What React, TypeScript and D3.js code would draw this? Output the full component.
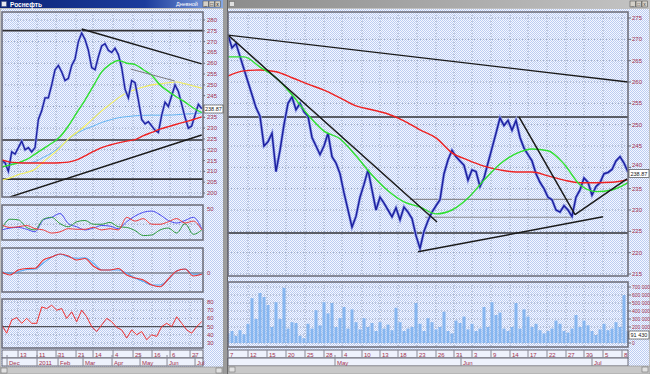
import React from "react";
import * as d3 from "d3";

// ---- left window: daily, Dec 2010 - Jul 2011 (index 0..60)
const leftClose = [215, 214, 210, 219, 218, 221, 224, 220, 221, 219, 221, 234, 238, 244, 244, 250, 257, 259, 256, 252,
  253, 259, 262, 270, 274, 271, 266, 258, 257, 263, 268, 269, 266, 265, 267, 264, 258, 248, 244, 252,
  251, 243, 234, 232, 233, 231, 229, 228, 236, 242, 240, 245, 250, 247, 241, 235, 230, 231, 236, 241, 239];
const leftMaGreen = [212, 213, 214, 215.5, 218, 220.5, 223, 226, 231, 237, 243, 249.5, 256, 259.5, 261.3, 260, 259.4, 257, 254.5, 250, 247, 244.4, 242, 239.3, 237.2];
const leftMaYellow = [206, 207, 208.5, 209.5, 211, 214.5, 217.5, 221, 225, 228, 231, 234.5, 238, 241, 244, 246.3, 247.8, 249, 250, 250.5, 251, 251.3, 250.5, 249.5, 248.5];
const leftMaSky = [213.5, 213.8, 213.9, 213.9, 214.5, 216.5, 218.5, 221.5, 224.8, 227.5, 229.5, 231, 232.6, 233.8, 234.8, 235.3, 235.7, 235.9, 236, 236, 236, 236.2, 236.5, 236.7, 237];
const leftMaRed = [215.3, 214.3, 214, 213.9, 213.9, 213.9, 213.9, 214, 214.3, 215.3, 217.2, 219.2, 221, 222.2, 223.2, 224, 224.7, 226.5, 228, 229.5, 230.7, 231.8, 232.9, 234, 235.2];
// 240 sits under the price box in the picture
const leftPriceTicks = [280, 275, 270, 265, 260, 255, 250, 245, 235, 230, 225, 220, 215, 210, 205, 200];
const leftGridPrices = [280, 270, 260, 250, 240, 230, 220, 210, 200];
const leftLevels = [275.1, 224.5, 206.4];
const leftTrends = [
  [[24, 275.8], [60, 259.7]],
  [[2.5, 198.2], [60, 226.8]],
];
const leftThinTrend = [[38.7, 257.3], [51.9, 251.8]];

const dmiBlue = [16, 19, 20, 17, 13, 32, 36, 42, 26, 21, 16, 19, 23, 22, 18, 29, 38, 44, 46, 40, 31, 27, 31, 36, 18];
const dmiRed = [24, 20, 21, 23, 18, 16, 11, 13, 18, 17, 17, 20, 16, 18, 16, 36, 30, 34, 25, 25, 29, 34, 27, 30, 16];
const dmiGreen = [18, 33, 32, 20, 16, 33, 36, 26, 21, 29, 31, 25, 25, 28, 21, 20, 15, 7, 8, 16, 19, 11, 26, 9, 16];
const macdRed = [1, -2, 3, 4.5, 4.7, 13, 16, 19, 17, 13, 14.5, 7, 3, 3, 4.5, -2, -5, -7, -12, -13.7, -6, 2, 4, -3, -1.3];
const macdBlue = [1.3, -0.3, 1.3, 3.5, 4, 10, 16, 18.7, 16.3, 14.7, 15.3, 9.7, 3, 3, 3, -0.3, -5, -8.5, -12, -12, -6, 2, 4, -1.3, -1.3];
const rsiValues = [52, 42, 58, 61, 54, 60, 54, 54, 74, 72, 76, 70, 72, 60, 68, 56, 70, 62, 50, 44,
  52, 60, 56, 49, 46, 36, 46, 40, 44, 34, 40, 38, 50, 54, 50, 62, 54, 46, 42, 50, 56];
const rsiTicks = [80, 70, 60, 50, 40, 30];

const leftDaySeps = [4.9, 10.6, 16.3, 22.3, 27.4, 33.4, 39.4, 45.1, 50.5, 56.5];
const leftDayLabels = ["13", "11", "31", "21", "14", "4", "25", "16", "6", "27"];
const leftMonthSeps = [1.6, 10.6, 16.9, 24.4, 33.1, 41.5, 49.6, 58];
const leftMonthLabels = ["Dec", "2011", "Feb", "Mar", "Apr", "May", "Jun", "Jul"];

// ---- right window: 7 Apr - 8 Jul 2011 (index 0..100)
const rightClose = [271, 268, 269, 266, 263, 260, 257, 254, 252, 245,
  246, 248, 239, 244, 250, 255, 256.5, 253.5, 255, 253,
  252, 247, 245, 243, 245, 248, 242.5, 241, 238.5, 234,
  230, 226, 228.5, 233, 236, 239.4, 234.7, 230, 233, 231.6,
  230, 228.4, 230.5, 227.7, 230.7, 229.5, 228, 224, 221, 225,
  227.5, 229.5, 231, 232.4, 238.5, 241.7, 244, 242.5, 241.5, 240.5,
  237, 239.4, 239, 235.5, 237.5, 241, 244.5, 248, 251.6, 249.8,
  251, 248.7, 251, 247, 244.5, 243, 241.5, 238.5, 236.5, 235,
  233, 232.4, 230, 229.5, 231, 230, 228.5, 233, 234.7, 237.5,
  236.5, 233.5, 235.5, 236.4, 238.5, 238.8, 239.5, 241.5, 242.5, 241,
  238.9];
const rightMaGreen = [265.9, 265.9, 263.5, 261, 257, 252.3, 248.5, 246.7, 242.7, 238.2, 234.5, 231.9, 230.7, 229.1, 230, 232.8, 237, 240.8, 243.2, 244.3, 243.9, 240.8, 235.9, 234.3, 234.7, 236.4];
const rightMaRed = [261.4, 262.6, 262.8, 262.4, 261, 259.5, 258.1, 256.3, 254.4, 253.5, 252.5, 250.9, 248.8, 246.9, 243.4, 241.7, 240.3, 239.4, 238.9, 238.9, 238, 237, 236.4, 236.4, 236.5, 237.1];
// volume, thousands
const rightVolume = [120, 150, 90, 160, 110, 240, 560, 300, 625, 575, 475, 200, 510, 300, 690, 180, 260, 250, 90, 60,
  240, 180, 410, 220, 510, 370, 500, 200, 310, 450, 180, 420, 260, 170, 310, 200, 250, 150, 260, 180,
  230, 160, 440, 260, 150, 180, 200, 500, 240, 150, 310, 260, 170, 200, 390, 150, 120, 280, 250, 330,
  170, 240, 150, 180, 450, 200, 510, 350, 380, 180, 150, 200, 500, 180, 420, 330, 200, 240, 160, 120,
  150, 180, 280, 240, 150, 130, 180, 350, 200, 280, 220, 150, 100, 170, 240, 160, 180, 260, 200, 600, 150];
const rightPriceTicks = [275, 270, 265, 260, 255, 250, 245, 240, 235, 230, 225, 220, 215];
const volTicks = [700, 600, 500, 400, 300, 200, 100, 0];
const volTickLabels = ["700 000", "600 000", "500 000", "400 000", "300 000", "200 000", "", "0"];
const rightLevels = [251.8, 224.6];
const rightShortLevels = [[232.5, 45.5, 86], [228.3, 49.25, 86]];
const rightTrends = [
  [[0, 271], [100, 260]],
  [[0, 271], [52.25, 227.2]],
  [[47.5, 220.2], [93.75, 228.4]],
  [[72.75, 251.8], [86.75, 228.9]],
  [[86.75, 228.9], [99.75, 237.3]],
];
const rightDaySeps = [0, 5, 9.75, 14.5, 19.25, 24, 28.5, 33.5, 38, 42.5, 47.25, 52, 56.5, 61, 65.75, 70.5, 75, 79.75, 84.5, 89, 93.75, 98.5];
const rightDayLabels = ["7", "12", "15", "20", "25", "28", "4", "10", "13", "18", "23", "26", "31", "3", "9", "14", "17", "22", "27", "30", "5", "8"];
const rightMonthSeps = [26.75, 58.25, 91];
const rightMonthLabels = ["May", "Jun", "Jul"];

const FONT = "'Liberation Sans', Arial, sans-serif";
const LBL = "#a3304e";
const FRAME = "#6a6a76";
const GRID = "#98a4bc";

function seg(pts: number[][], x: (v: number) => number, y: (v: number) => number, key: string, stroke: string, w: number) {
  return <line key={key} x1={x(pts[0][0])} y1={y(pts[0][1])} x2={x(pts[1][0])} y2={y(pts[1][1])} stroke={stroke} strokeWidth={w} />;
}

export default function App() {
  // left scales
  const xL = d3.scaleLinear().domain([0, 60]).range([1.7, 201.7]);
  const spreadL = (n: number) => (i: number) => xL((i * 60) / (n - 1));
  const yL = d3.scaleLinear().domain([200, 280]).range([193, 20]);
  const yDmi = d3.scaleLinear().domain([0, 54]).range([240, 206]);
  const yMacd = d3.scaleLinear().domain([-20, 25]).range([293, 248]);
  const yRsi = d3.scaleLinear().domain([30, 80]).range([343, 302]);
  // right scales
  const xR = d3.scaleLinear().domain([0, 100]).range([228, 628]);
  const spreadR = (n: number) => (i: number) => xR((i * 100) / (n - 1));
  const yR = d3.scaleLinear().domain([215, 275]).range([274, 18]);
  const yVol = d3.scaleLinear().domain([0, 700]).range([343, 287]);

  const path = (vals: number[], xf: (i: number) => number, y: (v: number) => number, curved = false) => {
    const l = d3.line<number>().x((_, i) => xf(i)).y(d => y(d));
    if (curved) l.curve(d3.curveMonotoneX);
    return l(vals) || "";
  };

  const txt = { fontFamily: FONT, fontSize: 6, fill: LBL } as const;

  const dateRows = (x0: number, x1: number, yTop: number, xs: (v: number) => number, daySeps: number[], dayLabels: string[], monSeps: number[], monLabels: string[], pre: string) => (
    <g>
      <rect x={x0} y={yTop} width={x1 - x0} height={8} fill="#eef2fc" stroke={FRAME} strokeWidth={1} />
      <rect x={x0} y={yTop + 8} width={x1 - x0} height={8} fill="#eef2fc" stroke={FRAME} strokeWidth={1} />
      {daySeps.map((s, i) => (
        <g key={pre + "d" + i}>
          <line x1={xs(s)} x2={xs(s)} y1={yTop} y2={yTop + 8} stroke="#8a8a96" />
          <text x={xs(s) + 2} y={yTop + 6.5} {...txt}>{dayLabels[i]}</text>
        </g>
      ))}
      {monSeps.map((s, i) => (
        <g key={pre + "m" + i}>
          <line x1={xs(s)} x2={xs(s)} y1={yTop + 5} y2={yTop + 16} stroke="#8a8a96" />
          <text x={xs(s) + 2} y={yTop + 14.5} {...txt}>{monLabels[i]}</text>
        </g>
      ))}
    </g>
  );

  const titleBtns = (x: number, active: boolean) => (
    <g>
      {[0, 6, 12].map((d, i) => (
        <g key={"b" + x + i}>
          <rect x={x + d} y={1} width={5.5} height={6} fill="#d4d0c8" stroke="#404040" strokeWidth={0.5} />
          <text x={x + d + 1.2} y={6} fontFamily={FONT} fontSize={5} fill={active ? "#000" : "#444"}>{["_", "□", "x"][i]}</text>
        </g>
      ))}
    </g>
  );

  return (
    <svg width={650} height={374} style={{ position: "absolute", left: 0, top: 0 }}>
      <defs>
        <pattern id="dith" width={2} height={2} patternUnits="userSpaceOnUse">
          <rect width={2} height={2} fill="#f6f8ff" />
          <rect width={1} height={1} fill="#bccdf2" />
          <rect x={1} y={1} width={1} height={1} fill="#bccdf2" />
        </pattern>
        <linearGradient id="titleL" x1="0" x2="1" y1="0" y2="0">
          <stop offset="0" stopColor="#0c2478" />
          <stop offset="0.65" stopColor="#1c3c9c" />
          <stop offset="1" stopColor="#86a8e4" />
        </linearGradient>
        <linearGradient id="titleR" x1="0" x2="1" y1="0" y2="0">
          <stop offset="0" stopColor="#8c8c8c" />
          <stop offset="1" stopColor="#c4c4c4" />
        </linearGradient>
        <clipPath id="cLmain"><rect x={2} y={12} width={201} height={185} /></clipPath>
        <clipPath id="cLdmi"><rect x={2} y={205} width={201} height={35} /></clipPath>
        <clipPath id="cLmacd"><rect x={2} y={248} width={201} height={44} /></clipPath>
        <clipPath id="cLrsi"><rect x={2} y={299} width={201} height={49} /></clipPath>
        <clipPath id="cRmain"><rect x={228} y={12} width={400} height={264} /></clipPath>
        <clipPath id="cRvol"><rect x={228} y={282} width={400} height={65} /></clipPath>
      </defs>

      {/* window chrome */}
      <rect x={0} y={0} width={650} height={374} fill="#c0c0c0" />
      <rect x={1} y={9} width={222} height={358} fill="url(#dith)" />
      <rect x={228} y={9} width={421} height={357} fill="url(#dith)" />
      <rect x={223} y={0} width={4} height={374} fill="#9c9c9c" />
      <line x1={227.5} x2={227.5} y1={0} y2={374} stroke="#606060" />

      {/* title bars */}
      <rect x={0} y={0} width={223} height={8} fill="url(#titleL)" />
      <rect x={1.5} y={1.5} width={5} height={5} fill="#e8e8f0" stroke="#405080" strokeWidth={0.5} />
      <text x={10} y={6.5} fontFamily={FONT} fontSize={6.5} fontWeight="bold" fill="#ffffff">Роснефть</text>
      <text x={176} y={6.3} fontFamily={FONT} fontSize={5.5} fill="#ffffff">Дневной</text>
      {titleBtns(203, true)}
      <rect x={228} y={0} width={422} height={8} fill="url(#titleR)" />
      <rect x={229.5} y={1.5} width={5} height={5} fill="#e0e0e0" stroke="#606060" strokeWidth={0.5} />
      {titleBtns(630, false)}

      {/* ===== left main panel ===== */}
      <g>
        {leftGridPrices.map(v => <line key={"lg" + v} x1={2} x2={203} y1={yL(v)} y2={yL(v)} stroke={GRID} strokeDasharray="1,2" />)}
        {leftDaySeps.map((s, i) => (
          <g key={"lv" + i}>
            {[[12, 197], [205, 240], [248, 292], [299, 348]].map(([a, b], j) => (
              <line key={j} x1={xL(s)} x2={xL(s)} y1={a} y2={b} stroke={GRID} strokeDasharray="1,2" />
            ))}
          </g>
        ))}
        <g clipPath="url(#cLmain)">
          {leftLevels.map(v => <line key={"ll" + v} x1={2} x2={203} y1={yL(v)} y2={yL(v)} stroke="#303034" strokeWidth={1.6} />)}
          <path d={path(leftMaSky, spreadL(leftMaSky.length), yL, true)} fill="none" stroke="#62b4f2" strokeWidth={1} />
          <path d={path(leftMaYellow, spreadL(leftMaYellow.length), yL, true)} fill="none" stroke="#f2ee5c" strokeWidth={1.1} />
          <path d={path(leftClose, spreadL(leftClose.length), yL)} fill="none" stroke="#9aa6ea" strokeWidth={2.6} />
          <path d={path(leftClose, spreadL(leftClose.length), yL)} fill="none" stroke="#1c20a0" strokeWidth={1.3} />
          <path d={path(leftMaGreen, spreadL(leftMaGreen.length), yL, true)} fill="none" stroke="#2ee02e" strokeWidth={1.4} />
          <path d={path(leftMaRed, spreadL(leftMaRed.length), yL, true)} fill="none" stroke="#ee2222" strokeWidth={1.4} />
          {leftTrends.map((t, i) => seg(t, xL, yL, "lt" + i, "#1a1a1a", 1.5))}
          {seg(leftThinTrend, xL, yL, "lthin", "#7a7a80", 1)}
        </g>
        <rect x={2} y={12} width={201} height={185} fill="none" stroke={FRAME} strokeWidth={1.5} />
        {leftPriceTicks.map(v => (
          <g key={"lpt" + v}>
            <line x1={203} x2={205} y1={yL(v)} y2={yL(v)} stroke={FRAME} />
            <text x={207} y={yL(v) + 2} {...txt}>{v}</text>
          </g>
        ))}
        <rect x={204} y={105} width={19} height={8} fill="#ffffff" stroke="#303030" strokeWidth={0.6} />
        <text x={205} y={111.2} fontFamily={FONT} fontSize={5.5} fill="#202020">238.87</text>
      </g>

      {/* ===== left DMI panel ===== */}
      <g>
        <line x1={2} x2={203} y1={yDmi(25)} y2={yDmi(25)} stroke={GRID} strokeDasharray="1,2" />
        <g clipPath="url(#cLdmi)">
          <path d={path(dmiBlue, spreadL(dmiBlue.length), yDmi, true)} fill="none" stroke="#4a4af0" strokeWidth={1} />
          <path d={path(dmiGreen, spreadL(dmiGreen.length), yDmi, true)} fill="none" stroke="#2e9a3e" strokeWidth={1} />
          <path d={path(dmiRed, spreadL(dmiRed.length), yDmi, true)} fill="none" stroke="#ee3a3a" strokeWidth={1} />
        </g>
        <rect x={2} y={205} width={201} height={35} fill="none" stroke={FRAME} strokeWidth={1.5} />
        <text x={207} y={yDmi(50) + 2} {...txt}>50</text>
      </g>

      {/* ===== left MACD panel ===== */}
      <g>
        <g clipPath="url(#cLmacd)">
          <line x1={2} x2={203} y1={yMacd(0)} y2={yMacd(0)} stroke="#505058" strokeWidth={1.2} />
          <path d={path(macdBlue, spreadL(macdBlue.length), yMacd, true)} fill="none" stroke="#56a8f4" strokeWidth={1.1} />
          <path d={path(macdRed, spreadL(macdRed.length), yMacd, true)} fill="none" stroke="#ee3030" strokeWidth={1.1} />
        </g>
        <rect x={2} y={248} width={201} height={44} fill="none" stroke={FRAME} strokeWidth={1.5} />
        <text x={207} y={yMacd(0) + 2} {...txt}>0</text>
      </g>

      {/* ===== left RSI panel ===== */}
      <g>
        {rsiTicks.map(v => <line key={"rg" + v} x1={2} x2={203} y1={yRsi(v)} y2={yRsi(v)} stroke={GRID} strokeDasharray="1,2" />)}
        <g clipPath="url(#cLrsi)">
          <line x1={2} x2={203} y1={yRsi(50)} y2={yRsi(50)} stroke="#505058" strokeWidth={1.2} />
          <path d={path(rsiValues, spreadL(rsiValues.length), yRsi)} fill="none" stroke="#ee3030" strokeWidth={1} />
        </g>
        <rect x={2} y={299} width={201} height={49} fill="none" stroke={FRAME} strokeWidth={1.5} />
        {rsiTicks.map(v => <text key={"rt" + v} x={207} y={yRsi(v) + 2} {...txt}>{v}</text>)}
      </g>

      {dateRows(2, 203, 350, xL, leftDaySeps, leftDayLabels, leftMonthSeps, leftMonthLabels, "L")}

      {/* ===== right main panel ===== */}
      <g>
        {rightPriceTicks.map(v => <line key={"rgp" + v} x1={228} x2={628} y1={yR(v)} y2={yR(v)} stroke={GRID} strokeDasharray="1,2" />)}
        {rightDaySeps.map((s, i) => (
          <g key={"rv" + i}>
            <line x1={xR(s)} x2={xR(s)} y1={12} y2={276} stroke={GRID} strokeDasharray="1,2" />
            <line x1={xR(s)} x2={xR(s)} y1={282} y2={347} stroke={GRID} strokeDasharray="1,2" />
          </g>
        ))}
        <g clipPath="url(#cRmain)">
          {rightLevels.map(v => <line key={"rl" + v} x1={228} x2={628} y1={yR(v)} y2={yR(v)} stroke="#303034" strokeWidth={1.6} />)}
          {rightShortLevels.map(([v, a, b], i) => (
            <line key={"rs" + i} x1={xR(a)} x2={xR(b)} y1={yR(v)} y2={yR(v)} stroke="#8a8a90" strokeWidth={1.2} />
          ))}
          <path d={path(rightClose, spreadR(rightClose.length), yR)} fill="none" stroke="#9aa6ea" strokeWidth={3} />
          <path d={path(rightClose, spreadR(rightClose.length), yR)} fill="none" stroke="#1c20a0" strokeWidth={1.5} />
          <path d={path(rightMaRed, spreadR(rightMaRed.length), yR, true)} fill="none" stroke="#ee2222" strokeWidth={1.4} />
          <path d={path(rightMaGreen, spreadR(rightMaGreen.length), yR, true)} fill="none" stroke="#2ee02e" strokeWidth={1.4} />
          {rightTrends.map((t, i) => seg(t, xR, yR, "rt" + i, "#1a1a1a", i === 0 ? 1.3 : 1.5))}
        </g>
        <rect x={228} y={12} width={400} height={264} fill="none" stroke={FRAME} strokeWidth={1.5} />
        {rightPriceTicks.map(v => (
          <g key={"rpt" + v}>
            <line x1={628} x2={631} y1={yR(v)} y2={yR(v)} stroke={FRAME} />
            <text x={632} y={yR(v) + (v === 240 ? 0 : 2)} {...txt}>{v}</text>
          </g>
        ))}
        <rect x={629} y={169.5} width={20} height={8} fill="#ffffff" stroke="#303030" strokeWidth={0.6} />
        <text x={630.5} y={175.7} fontFamily={FONT} fontSize={5.5} fill="#202020">238.87</text>
      </g>

      {/* ===== right volume panel ===== */}
      <g>
        {volTicks.map(v => <line key={"vg" + v} x1={228} x2={628} y1={yVol(v)} y2={yVol(v)} stroke={GRID} strokeDasharray="1,2" />)}
        <g clipPath="url(#cRvol)">
          {rightVolume.map((v, i) => (
            <rect key={"v" + i} x={xR(i) - 1.5} y={yVol(v)} width={3} height={yVol(0) - yVol(v)} fill="#86b6f0" />
          ))}
        </g>
        <rect x={228} y={282} width={400} height={65} fill="none" stroke={FRAME} strokeWidth={1.5} />
        {volTicks.map((v, i) => (
          <g key={"vt" + v}>
            <line x1={628} x2={631} y1={yVol(v)} y2={yVol(v)} stroke={FRAME} />
            <text x={632} y={yVol(v) + 2} fontFamily={FONT} fontSize={5} fill={LBL}>{volTickLabels[i]}</text>
          </g>
        ))}
        <rect x={629} y={331} width={20} height={8} fill="#ffffff" stroke="#303030" strokeWidth={0.6} />
        <text x={630.5} y={337.2} fontFamily={FONT} fontSize={5.5} fill="#202020">91 430</text>
      </g>

      {dateRows(228, 628, 350, xR, rightDaySeps, rightDayLabels, rightMonthSeps, rightMonthLabels, "R")}

      {/* scrollbars */}
      <rect x={0} y={367} width={223} height={7} fill="#c8c8c8" stroke="#808080" strokeWidth={0.5} />
      <rect x={1} y={368} width={6} height={5} fill="#e0e0e0" stroke="#606060" strokeWidth={0.5} />
      <rect x={216} y={368} width={6} height={5} fill="#e0e0e0" stroke="#606060" strokeWidth={0.5} />
      <rect x={228} y={366} width={422} height={8} fill="#c8c8c8" stroke="#808080" strokeWidth={0.5} />
      <rect x={229} y={367} width={6} height={5} fill="#e0e0e0" stroke="#606060" strokeWidth={0.5} />
      <rect x={642} y={367} width={6} height={5} fill="#e0e0e0" stroke="#606060" strokeWidth={0.5} />
    </svg>
  );
}
